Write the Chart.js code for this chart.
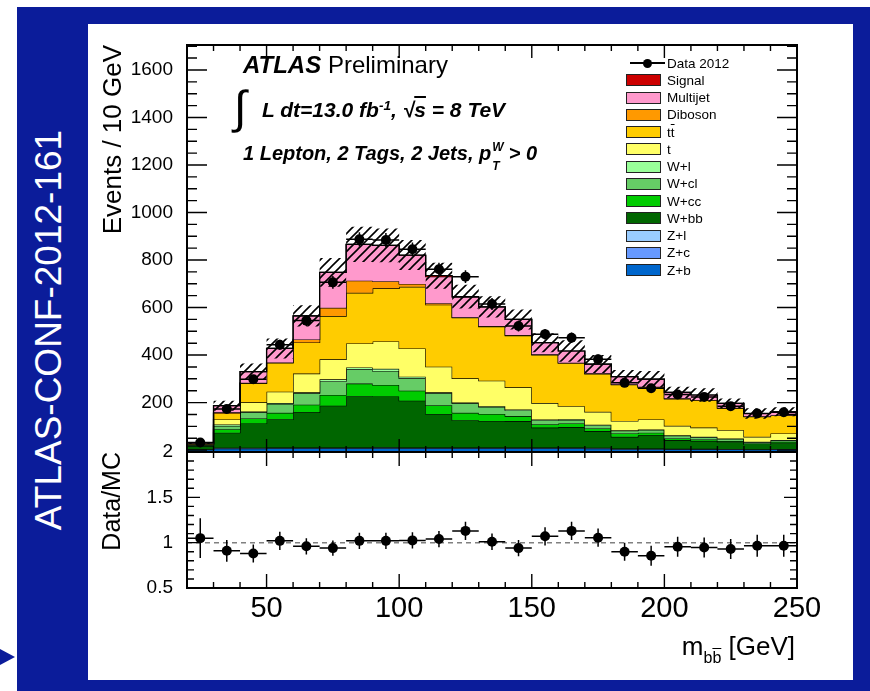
<!DOCTYPE html>
<html lang="en">
<head>
<meta charset="utf-8">
<title>m_bb, 1 lepton 2 tags 2 jets</title>
<script src="https://cdn.jsdelivr.net/npm/chart.js@4.4.0/dist/chart.umd.min.js"></script>
<style>
  body{margin:0;width:870px;height:691px;position:relative;overflow:hidden;background:#fff;font-family:"Liberation Sans",Arial,Helvetica,sans-serif;color:#000;}
  .frame{position:absolute;left:17px;top:7px;width:853px;height:684px;background:#0b1c9a;}
  .arrow{position:absolute;left:0;top:649px;width:0;height:0;border-top:8px solid transparent;border-bottom:8px solid transparent;border-left:15px solid #0b1c9a;}
  .panel{position:absolute;left:88px;top:24px;width:765px;height:656px;background:#fff;}
  .conf{position:absolute;left:48px;top:330px;transform:translate(-50%,-50%) rotate(-90deg);font-size:37px;line-height:1;color:#fff;white-space:nowrap;}
  canvas{position:absolute;left:88px;}
  #mainCanvas{top:24px;}
  #ratioCanvas{top:430px;}
  .txt{position:absolute;white-space:nowrap;}
  .bi{font-weight:bold;font-style:italic;}
  .ov{text-decoration:overline;}
  .up{position:relative;top:-0.55em;font-size:0.65em;}
  .leg-box{position:absolute;width:33px;height:10px;border:1px solid #222;}
  .leg-txt{position:absolute;font-size:13.5px;line-height:17px;white-space:nowrap;}
</style>
</head>
<body>
<div class="frame"></div>
<div class="arrow"></div>
<div class="panel"></div>
<div class="conf">ATLAS-CONF-2012-161</div>

<canvas id="mainCanvas" width="765" height="428"></canvas>
<canvas id="ratioCanvas" width="765" height="250"></canvas>

<div class="txt" style="left:243px;top:53px;font-size:24px;line-height:24px;"><span class="bi">ATLAS</span> Preliminary</div>
<div class="txt" style="left:234px;top:84px;font-size:46px;line-height:46px;">&#8747;</div>
<div class="txt bi" style="left:262px;top:99px;font-size:21px;line-height:21px;">L dt=13.0 fb<span class="up">-1</span>, &#8730;<span class="ov">s</span> = 8 TeV</div>
<div class="txt bi" style="left:243px;top:143px;font-size:20px;line-height:20px;">1 Lepton, 2 Tags, 2 Jets, p<span style="position:relative;display:inline-block;width:12px;height:0;"><span style="position:absolute;left:1px;top:-23px;font-size:12px;">W</span><span style="position:absolute;left:1px;top:-4px;font-size:12px;">T</span></span> &gt; 0</div>
<div class="txt" style="right:75px;top:633px;font-size:26px;line-height:26px;">m<span style="font-size:16px;position:relative;top:8px;">b<span class="ov">b</span></span> [GeV]</div>
<div id="legend"></div>

<script>
// bin lower edges, 10 GeV wide
const binLow = [20,30,40,50,60,70,80,90,100,110,120,130,140,150,160,170,180,190,200,210,220,230,240];
const binWidth = 10;

// expected events per bin
const signal   = [0,0,0,0,0,0,0,0,1,4,2,0,0,0,0,0,0,0,0,0,0,0,0];
const multijet = [3,28,47,59,99,149,153,151,121,112,85,81,66,49,49,39,32,32,25,21,19,12,14];
const diboson  = [0,5,2,2,13,35,51,30,12,6,2,2,2,2,2,2,2,2,2,2,1,1,1];
const ttbar    = [2,25,80,121,131,182,213,224,259,261,255,228,218,203,181,160,152,136,114,114,93,85,76];
const singleTop= [2,21,39,48,79,84,101,115,119,108,102,107,93,69,55,54,39,42,39,39,35,21,28];
const wl       = [1,6,3,4,4,8,8,9,7,4,3,3,4,3,3,3,2,2,2,2,2,2,2];
const wcl      = [3,14,26,37,48,58,60,59,52,50,40,30,24,17,15,13,12,12,12,9,9,5,6];
const wcc      = [3,15,21,27,32,45,53,48,42,37,31,29,21,14,15,11,14,11,7,6,5,4,5];
const wbb      = [12,63,102,119,148,176,216,214,197,141,115,112,111,84,86,70,49,55,36,33,28,20,24];
const zl       = [1,2,2,2,2,2,2,2,2,2,2,2,2,2,2,2,1,1,1,1,1,1,1];
const zc       = [1,2,2,2,2,2,2,2,2,2,2,2,2,2,2,2,2,2,1,1,1,1,1];
const zb       = [2,6,6,7,7,7,7,8,7,7,7,7,7,7,7,6,4,4,4,4,3,2,3];

// MC total uncertainty (hatched band)
const mcErr = [4,21,35,42,45,60,74,71,63,55,50,45,42,40,45,38,28,34,24,28,20,22,19];

// data 2012
const dataCounts = [32,173,298,443,545,706,887,884,845,761,730,615,522,488,473,382,283,260,234,224,185,154,159];
const dataErr    = [6,13,17,21,23,27,30,30,29,28,27,25,23,22,22,20,17,16,15,15,14,12,13];

// data / MC
const ratio    = [1.05,0.91,0.88,1.02,0.96,0.94,1.02,1.02,1.025,1.04,1.13,1.01,0.94,1.07,1.13,1.055,0.90,0.855,0.955,0.947,0.93,0.966,0.966];
const ratioErr = [0.22,0.12,0.1,0.1,0.09,0.085,0.09,0.09,0.09,0.09,0.1,0.09,0.09,0.1,0.1,0.1,0.1,0.11,0.11,0.11,0.11,0.12,0.12];

// legend order = top of the stack first
const mcNames  = ['Signal','Multijet','Diboson','t<span class="ov">t</span>','t','W+l','W+cl','W+cc','W+bb','Z+l','Z+c','Z+b'];
const mcValues = [signal,multijet,diboson,ttbar,singleTop,wl,wcl,wcc,wbb,zl,zc,zb];
const mcColors = ['#cc0000','#ff99cc','#ff9900','#ffcc00','#ffff66','#99ff99','#66cc66','#00cc00','#006600','#99ccff','#6699ff','#0066cc'];

Chart.defaults.font.family = '"Liberation Sans", Arial, Helvetica, sans-serif';
Chart.defaults.color = '#000';

const centers = binLow.map(x => x + binWidth / 2);

// cumulative sums, bottom of the stack upwards
const cumulative = [];
let running = binLow.map(() => 0);
for (let k = mcValues.length - 1; k >= 0; k--) {
  running = running.map((v, i) => v + mcValues[k][i]);
  cumulative[k] = running;
}
const mcTotal = cumulative[0];

// step outline: one point per lower edge plus the last upper edge
function histPoints(vals) {
  const pts = binLow.map((x, i) => ({x: x, y: vals[i]}));
  pts.push({x: binLow[binLow.length - 1] + binWidth, y: vals[vals.length - 1]});
  return pts;
}

function hatch() {
  const c = document.createElement('canvas');
  c.width = c.height = 9;
  const g = c.getContext('2d');
  g.strokeStyle = '#000';
  g.lineWidth = 1.6;
  g.beginPath();
  g.moveTo(-1, 10); g.lineTo(10, -1);
  g.moveTo(-1, 1); g.lineTo(1, -1);
  g.moveTo(8, 10); g.lineTo(10, 8);
  g.stroke();
  return g.createPattern(c, 'repeat');
}

// keep the y axis from pushing the plot area around
function fixYAxis(s) {
  s.width = 99;
  s.paddingTop = 0;
  s.paddingBottom = 0;
}

// inward ROOT-style ticks plus the frame
const rootFrame = {
  id: 'rootFrame',
  afterDraw(chart, args, o) {
    const {ctx, chartArea: a, scales: {x, y}} = chart;
    ctx.save();
    ctx.strokeStyle = '#000';
    ctx.lineWidth = 1.4;
    ctx.beginPath();
    const nx = Math.round((x.max - x.min) / o.xMinor);
    for (let i = 0; i <= nx; i++) {
      const v = x.min + i * o.xMinor;
      const px = x.getPixelForValue(v);
      const len = (Math.abs(v % o.xMajor) < 1e-6) ? o.xMajorLen : o.xMinorLen;
      ctx.moveTo(px, a.bottom); ctx.lineTo(px, a.bottom - len);
      ctx.moveTo(px, a.top); ctx.lineTo(px, a.top + len);
    }
    const first = Math.ceil(y.min / o.yMinor - 1e-9);
    const last = Math.floor(y.max / o.yMinor + 1e-9);
    for (let i = first; i <= last; i++) {
      const v = i * o.yMinor;
      const py = y.getPixelForValue(v);
      const r = v / o.yMajor;
      const len = (Math.abs(r - Math.round(r)) < 1e-6) ? o.yMajorLen : o.yMinorLen;
      ctx.moveTo(a.left, py); ctx.lineTo(a.left + len, py);
      ctx.moveTo(a.right, py); ctx.lineTo(a.right - len, py);
    }
    ctx.stroke();
    ctx.lineWidth = 2;
    ctx.strokeRect(a.left, a.top, a.right - a.left, a.bottom - a.top);
    ctx.restore();
  }
};

const errorBars = {
  id: 'errorBars',
  afterDatasetsDraw(chart, args, o) {
    const {ctx, scales: {x, y}} = chart;
    ctx.save();
    ctx.strokeStyle = '#000';
    ctx.lineWidth = 1.5;
    ctx.beginPath();
    o.values.forEach((v, i) => {
      const c = centers[i];
      const py = y.getPixelForValue(v);
      ctx.moveTo(x.getPixelForValue(c - binWidth / 2), py);
      ctx.lineTo(x.getPixelForValue(c + binWidth / 2), py);
      const px = x.getPixelForValue(c);
      ctx.moveTo(px, y.getPixelForValue(v - o.errors[i]));
      ctx.lineTo(px, y.getPixelForValue(v + o.errors[i]));
    });
    ctx.stroke();
    ctx.restore();
  }
};

const unityLine = {
  id: 'unityLine',
  beforeDatasetsDraw(chart) {
    const {ctx, chartArea: a, scales: {y}} = chart;
    const py = y.getPixelForValue(1);
    ctx.save();
    ctx.setLineDash([5, 4]);
    ctx.strokeStyle = '#808080';
    ctx.lineWidth = 1.5;
    ctx.beginPath();
    ctx.moveTo(a.left, py);
    ctx.lineTo(a.right, py);
    ctx.stroke();
    ctx.restore();
  }
};

const stackSets = mcValues.map((vals, k) => ({
  label: mcNames[k],
  data: histPoints(cumulative[k]),
  stepped: 'before',
  borderColor: '#000',
  borderWidth: 1.2,
  backgroundColor: mcColors[k],
  fill: k === mcValues.length - 1 ? 'start' : '+1',
  pointRadius: 0,
  order: 3
}));

const bandSets = [
  {
    label: 'MC uncertainty',
    data: histPoints(mcTotal.map((v, i) => v + mcErr[i])),
    stepped: 'before',
    borderColor: 'rgba(0,0,0,0)',
    backgroundColor: hatch(),
    fill: '+1',
    pointRadius: 0,
    order: 2
  },
  {
    label: 'MC uncertainty low',
    data: histPoints(mcTotal.map((v, i) => v - mcErr[i])),
    stepped: 'before',
    borderColor: 'rgba(0,0,0,0)',
    fill: false,
    pointRadius: 0,
    order: 2
  }
];

const dataSet = {
  label: 'Data 2012',
  data: centers.map((c, i) => ({x: c, y: dataCounts[i]})),
  showLine: false,
  pointRadius: 5,
  pointBackgroundColor: '#000',
  pointBorderWidth: 0,
  order: 1
};

new Chart(document.getElementById('mainCanvas'), {
  type: 'line',
  data: {datasets: [...stackSets, ...bandSets, dataSet]},
  options: {
    responsive: false,
    animation: false,
    events: [],
    layout: {autoPadding: false, padding: {left: 0, right: 56, top: 21, bottom: 0}},
    scales: {
      x: {type: 'linear', min: 20, max: 250, display: false},
      y: {
        type: 'linear', min: -8, max: 1705,
        afterFit: fixYAxis,
        afterBuildTicks: s => { s.ticks = s.ticks.filter(t => t.value >= 200); },
        ticks: {stepSize: 200, includeBounds: false, padding: 6, font: {size: 19}, callback: v => String(v)},
        grid: {display: false},
        border: {display: false},
        title: {display: true, text: 'Events / 10 GeV', align: 'end', font: {size: 26}, padding: {top: 10, bottom: 0}}
      }
    },
    plugins: {
      legend: {display: false},
      tooltip: {enabled: false},
      errorBars: {values: dataCounts, errors: dataErr},
      rootFrame: {xMinor: 10, xMajor: 50, xMajorLen: 13, xMinorLen: 6, yMinor: 50, yMajor: 200, yMajorLen: 20, yMinorLen: 10}
    }
  },
  plugins: [errorBars, rootFrame]
});

new Chart(document.getElementById('ratioCanvas'), {
  type: 'line',
  data: {
    datasets: [{
      label: 'Data/MC',
      data: centers.map((c, i) => ({x: c, y: ratio[i]})),
      showLine: false,
      pointRadius: 5,
      pointBackgroundColor: '#000',
      pointBorderWidth: 0
    }]
  },
  options: {
    responsive: false,
    animation: false,
    events: [],
    layout: {autoPadding: false, padding: {left: 0, right: 56, top: 22, bottom: 0}},
    scales: {
      x: {
        type: 'linear', min: 20, max: 250,
        afterFit: s => { s.height = 92; },
        ticks: {stepSize: 50, includeBounds: false, padding: -4, maxRotation: 0, font: {size: 29}},
        grid: {display: false},
        border: {display: false}
      },
      y: {
        type: 'linear', min: 0.5, max: 2,
        afterFit: fixYAxis,
        ticks: {stepSize: 0.5, padding: 6, font: {size: 19}, callback: v => String(v)},
        grid: {display: false},
        border: {display: false},
        title: {display: true, text: 'Data/MC', align: 'end', font: {size: 25}, padding: {top: 10, bottom: 0}}
      }
    },
    plugins: {
      legend: {display: false},
      tooltip: {enabled: false},
      errorBars: {values: ratio, errors: ratioErr},
      rootFrame: {xMinor: 10, xMajor: 50, xMajorLen: 14, xMinorLen: 6, yMinor: 0.1, yMajor: 0.5, yMajorLen: 13, yMinorLen: 7}
    }
  },
  plugins: [unityLine, errorBars, rootFrame]
});

// legend, one row per entry
const legend = document.getElementById('legend');
const rowTop = 63, rowStep = 17.25;
legend.insertAdjacentHTML('beforeend',
  `<div style="position:absolute;left:630px;top:${rowTop - 0.75}px;width:35px;height:1.5px;background:#000;"></div>` +
  `<div style="position:absolute;left:642.5px;top:${rowTop - 4.5}px;width:9px;height:9px;border-radius:50%;background:#000;"></div>` +
  `<div class="leg-txt" style="left:667px;top:${rowTop - 8.5}px;">Data 2012</div>`);
mcNames.forEach((name, k) => {
  const cy = rowTop + (k + 1) * rowStep;
  legend.insertAdjacentHTML('beforeend',
    `<div class="leg-box" style="left:626px;top:${cy - 6}px;background:${mcColors[k]};"></div>` +
    `<div class="leg-txt" style="left:667px;top:${cy - 8.5}px;">${name}</div>`);
});
</script>
</body>
</html>
